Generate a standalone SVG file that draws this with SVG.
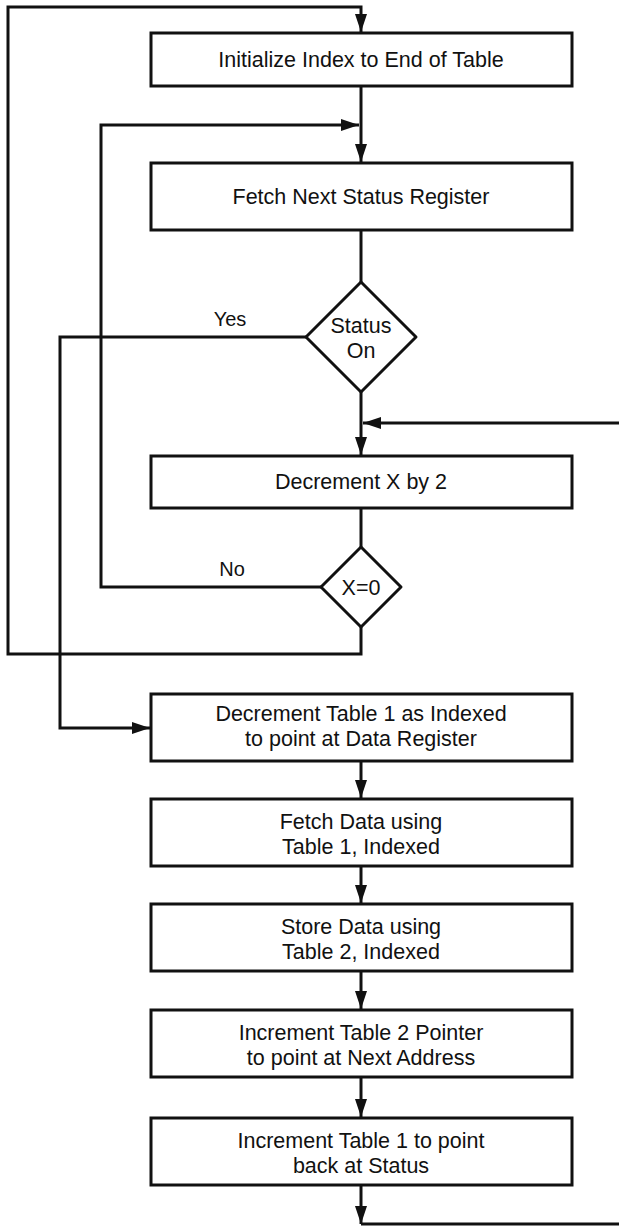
<svg xmlns="http://www.w3.org/2000/svg" width="619" height="1226" viewBox="0 0 619 1226">
<style>
.box{fill:#fff;stroke:#111;stroke-width:3}
.dia{fill:#fff;stroke:#111;stroke-width:3;stroke-linejoin:round}
.ln{fill:none;stroke:#111;stroke-width:3}
.t{font-family:"Liberation Sans",Arial,sans-serif;font-size:21.5px;fill:#111;text-anchor:middle}
.lbl{font-family:"Liberation Sans",Arial,sans-serif;font-size:20px;fill:#111;text-anchor:middle}
</style>
<defs>
<marker id="ah" markerUnits="userSpaceOnUse" markerWidth="18" markerHeight="12" refX="18" refY="6" orient="auto">
<path d="M0,0 L18,6 L0,12 z" fill="#111"/>
</marker>
</defs>
<rect width="619" height="1226" fill="#fff"/>
<g id="connectors">
<path class="ln" d="M361,627 V654 H8 V7 H361 V32" marker-end="url(#ah)"/>
<path class="ln" d="M361,86 V162" marker-end="url(#ah)"/>
<path class="ln" d="M321,587 H101 V125 H359" marker-end="url(#ah)"/>
<path class="ln" d="M361,230 V282"/>
<path class="ln" d="M306,337 H60 V728 H150" marker-end="url(#ah)"/>
<path class="ln" d="M361,392 V455" marker-end="url(#ah)"/>
<path class="ln" d="M619,423 H363" marker-end="url(#ah)"/>
<path class="ln" d="M361,508 V547"/>
<path class="ln" d="M361,761 V798" marker-end="url(#ah)"/>
<path class="ln" d="M361,866 V903" marker-end="url(#ah)"/>
<path class="ln" d="M361,971 V1009" marker-end="url(#ah)"/>
<path class="ln" d="M361,1077 V1117" marker-end="url(#ah)"/>
<path class="ln" d="M361,1185 V1224" marker-end="url(#ah)"/>
<path class="ln" d="M361,1224 H619"/>
<text class="lbl" x="230" y="326">Yes</text>
<text class="lbl" x="232" y="576">No</text>
</g>
<g id="n1"><rect class="box" x="151" y="33" width="421" height="53"/><text class="t" x="361" y="67">Initialize Index to End of Table</text></g>
<g id="n2"><rect class="box" x="151" y="163" width="421" height="67"/><text class="t" x="361" y="204">Fetch Next Status Register</text></g>
<g id="d1"><path class="dia" d="M361,282 L416,337 L361,392 L306,337 z"/><text class="t" x="361" y="333">Status</text><text class="t" x="361" y="358">On</text></g>
<g id="n3"><rect class="box" x="151" y="456" width="421" height="52"/><text class="t" x="361" y="489">Decrement X by 2</text></g>
<g id="d2"><path class="dia" d="M361,547 L401,587 L361,627 L321,587 z"/><text class="t" x="361" y="595">X=0</text></g>
<g id="n4"><rect class="box" x="151" y="694" width="421" height="67"/><text class="t" x="361" y="721">Decrement Table 1 as Indexed</text><text class="t" x="361" y="746">to point at Data Register</text></g>
<g id="n5"><rect class="box" x="151" y="799" width="421" height="67"/><text class="t" x="361" y="829">Fetch Data using</text><text class="t" x="361" y="854">Table 1, Indexed</text></g>
<g id="n6"><rect class="box" x="151" y="904" width="421" height="67"/><text class="t" x="361" y="934">Store Data using</text><text class="t" x="361" y="959">Table 2, Indexed</text></g>
<g id="n7"><rect class="box" x="151" y="1010" width="421" height="67"/><text class="t" x="361" y="1040">Increment Table 2 Pointer</text><text class="t" x="361" y="1065">to point at Next Address</text></g>
<g id="n8"><rect class="box" x="151" y="1118" width="421" height="67"/><text class="t" x="361" y="1148">Increment Table 1 to point</text><text class="t" x="361" y="1173">back at Status</text></g>
</svg>
